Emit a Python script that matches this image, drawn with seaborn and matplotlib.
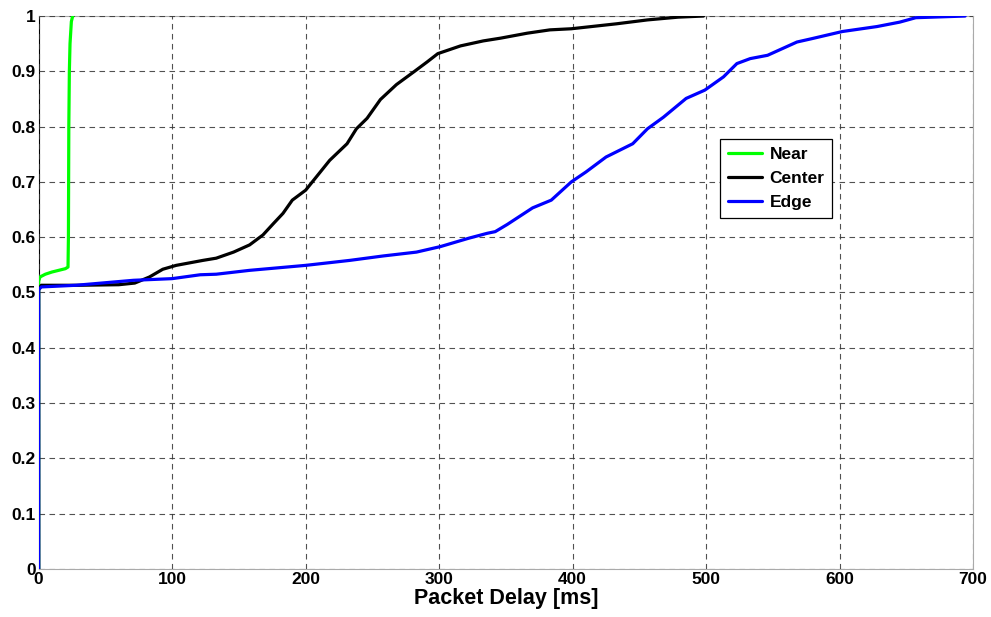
import matplotlib
matplotlib.use("Agg")
import matplotlib.pyplot as plt
import seaborn as sns
import pandas as pd

# Empirical CDF of packet delay per user location
near_delay = [0, 0, 1, 5, 10, 15, 20, 22, 22.3, 22.6, 23, 23.5, 24.5, 25.5]
near_cdf = [0, 0.52, 0.528, 0.533, 0.537, 0.54, 0.543, 0.546, 0.6, 0.8, 0.9, 0.95, 0.99, 1.0]

center_delay = [0, 0, 2, 30, 60, 72, 83, 93, 103, 123, 133, 146, 158, 168, 176, 183, 190,
                200, 206, 218, 231, 238, 246, 256, 268, 281, 291, 299, 316, 333, 346, 366,
                383, 399, 433, 456, 479, 498]
center_cdf = [0, 0.505, 0.513, 0.513, 0.514, 0.517, 0.528, 0.542, 0.549, 0.558, 0.562, 0.573,
              0.586, 0.604, 0.625, 0.643, 0.667, 0.685, 0.703, 0.739, 0.769, 0.796, 0.815,
              0.849, 0.876, 0.899, 0.917, 0.932, 0.946, 0.955, 0.960, 0.969, 0.975, 0.977,
              0.986, 0.993, 0.998, 1.0]

edge_delay = [0, 0, 2, 28, 71, 100, 121, 133, 158, 200, 233, 258, 283, 301, 322, 336, 342,
              351, 370, 384, 399, 410, 425, 445, 456, 468, 485, 499, 513, 523, 533, 546, 568,
              579, 602, 628, 645, 657, 694]
edge_cdf = [0, 0.505, 0.510, 0.513, 0.522, 0.525, 0.532, 0.533, 0.540, 0.549, 0.558, 0.566,
            0.573, 0.583, 0.598, 0.607, 0.610, 0.623, 0.653, 0.667, 0.700, 0.718, 0.745,
            0.769, 0.796, 0.817, 0.851, 0.866, 0.890, 0.914, 0.923, 0.929, 0.953, 0.959,
            0.972, 0.981, 0.989, 0.997, 1.0]

series_names = ["Near", "Center", "Edge"]
series_colors = {"Near": "#00ff00", "Center": "#000000", "Edge": "#0000ff"}

x_ticks = [0, 100, 200, 300, 400, 500, 600, 700]
y_ticks = [0, 0.1, 0.2, 0.3, 0.4, 0.5, 0.6, 0.7, 0.8, 0.9, 1.0]
y_tick_labels = ["0", "0.1", "0.2", "0.3", "0.4", "0.5", "0.6", "0.7", "0.8", "0.9", "1"]

frames = []
for name, xs, ys in zip(series_names,
                        [near_delay, center_delay, edge_delay],
                        [near_cdf, center_cdf, edge_cdf]):
    frames.append(pd.DataFrame({"delay": xs, "cdf": ys, "series": name}))
df = pd.concat(frames, ignore_index=True)

sns.set_style("white")
plt.rcParams["font.family"] = ["Liberation Sans", "DejaVu Sans"]
plt.rcParams["font.weight"] = "bold"
plt.rcParams["text.color"] = "black"
plt.rcParams["axes.labelcolor"] = "black"
plt.rcParams["xtick.color"] = "black"
plt.rcParams["ytick.color"] = "black"

fig = plt.figure(figsize=(9.91, 6.17), dpi=100)
ax = fig.add_axes([0.039, 0.078, 0.943, 0.896])

# one continuous curve per location, drawn in data order
for name in series_names:
    sub = df[df["series"] == name]
    sns.lineplot(data=sub, x="delay", y="cdf", sort=False, estimator=None,
                 color=series_colors[name], linewidth=2.3, ax=ax, label=name,
                 zorder=3)

ax.set_xlim(0, 700)
ax.set_ylim(0, 1)
ax.set_xticks(x_ticks)
ax.set_xticklabels([str(t) for t in x_ticks])
ax.set_yticks(y_ticks)
ax.set_yticklabels(y_tick_labels)
ax.tick_params(direction="in", length=4, width=0.8, color="black",
               labelcolor="black", labelsize=12.5, pad=2)
for lbl in ax.get_xticklabels() + ax.get_yticklabels():
    lbl.set_fontweight("bold")

ax.grid(True, color="#333333", linestyle=(0, (5, 4)), linewidth=0.8, alpha=0.85)
ax.set_axisbelow(False)
for side in ["top", "right", "bottom"]:
    ax.spines[side].set_color("#aaaaaa")
    ax.spines[side].set_linewidth(0.8)
ax.spines["left"].set_color("black")
ax.spines["left"].set_linewidth(0.8)

ax.set_xlabel("Packet Delay [ms]", fontsize=15.5, fontweight="bold", labelpad=1,
              color="black")
ax.set_ylabel("")

leg = ax.legend(loc="upper left", bbox_to_anchor=(0.729, 0.777), borderaxespad=0,
                fancybox=False, edgecolor="black", framealpha=1,
                prop={"weight": "bold", "size": 12.5}, handlelength=2.0,
                labelspacing=0.5, borderpad=0.45, handletextpad=0.4,
                labelcolor="black")
leg.get_frame().set_linewidth(0.9)

fig.savefig("out.png", dpi=100)
